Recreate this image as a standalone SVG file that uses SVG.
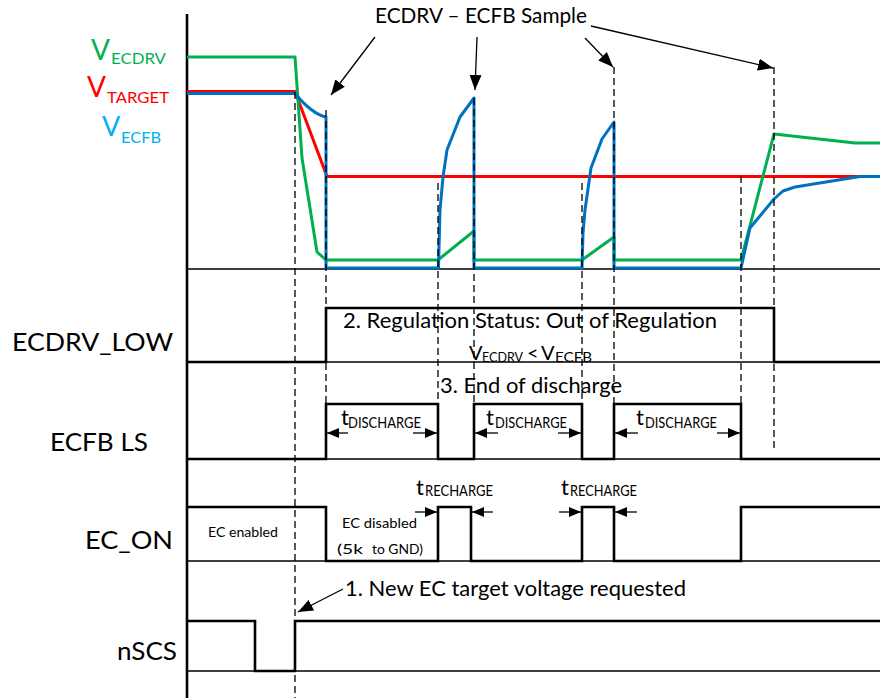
<svg xmlns="http://www.w3.org/2000/svg" width="880" height="698" viewBox="0 0 880 698">
<style>
text{font-family:Lato,"Liberation Sans",Arial,sans-serif;fill:#000}
.sig{fill:none;stroke:#000;stroke-width:2.6;stroke-linejoin:miter}
.sep{fill:none;stroke:#000;stroke-width:1.3}
.dash{fill:none;stroke:#000;stroke-width:1.3;stroke-dasharray:7 4}
.ann{fill:none;stroke:#000;stroke-width:1.3}
.wave{fill:none;stroke-width:3;stroke-linejoin:round}
.lbl{font-size:25.5px}
.big{font-size:22px}
.sub{font-size:14.5px}
.sm{font-size:14px}
</style>
<defs>
<marker id="ah" viewBox="0 0 12 10" refX="12" refY="5" markerWidth="12" markerHeight="10" markerUnits="userSpaceOnUse" orient="auto"><path d="M0,0 L12,5 L0,10 z" fill="#000"/></marker>
<marker id="ahb" viewBox="0 0 15 12" refX="15" refY="6" markerWidth="15" markerHeight="12" markerUnits="userSpaceOnUse" orient="auto"><path d="M0,0 L15,6 L0,12 z" fill="#000"/></marker>
</defs>
<rect width="880" height="698" fill="#fff"/>

<g id="axis">
<line x1="187" y1="14" x2="187" y2="698" stroke="#000" stroke-width="2.6"/>
<line class="sep" x1="187" y1="269" x2="880" y2="269"/>
<line class="sep" x1="187" y1="362" x2="880" y2="362"/>
<line class="sep" x1="187" y1="459" x2="880" y2="459"/>
<line class="sep" x1="187" y1="561" x2="880" y2="561"/>
<line class="sep" x1="187" y1="671" x2="880" y2="671"/>
</g>

<g id="analog">
<path class="wave" stroke="#FF0000" d="M187,91.5 H295 L327,176.5 H880"/>
<path class="wave" stroke="#00B050" d="M187,57 H295 L302,158 L317,252 L326,260 H438 L474,231 L474,260 H582 L614,237 L614,260 H741 L774,134 L855,143 H880"/>
<path class="wave" stroke="#0070C0" d="M187,93.5 H295 Q312,114 326,117 V268 H438.5 L440,210 L443,177 L447,150 L460,117 L474,98 V268 H582 L583,233 L585,210 L591,168 L602,139 L614,122 V268 H741 L750,228 L774,199 L783,191 L795,187 L860,176.5 H880"/>
<text x="91" y="60" font-size="28" style="fill:#00B050">V</text>
<text x="111" y="64" font-size="16" textLength="55" lengthAdjust="spacingAndGlyphs" style="fill:#00B050">ECDRV</text>
<text x="87" y="97" font-size="28" style="fill:#FF0000">V</text>
<text x="107" y="103" font-size="16" textLength="62" lengthAdjust="spacingAndGlyphs" style="fill:#FF0000">TARGET</text>
<text x="102" y="136" font-size="27" style="fill:#00B0F0">V</text>
<text x="121" y="143" font-size="16" textLength="40" lengthAdjust="spacingAndGlyphs" style="fill:#00B0F0">ECFB</text>
</g>

<g id="ecdrv-low">
<text class="lbl" x="12" y="351" textLength="161" lengthAdjust="spacingAndGlyphs">ECDRV_LOW</text>
<path class="sig" d="M187,362 H326 V308 H774 V362 H880"/>
<text class="big" x="343" y="328" textLength="374" lengthAdjust="spacingAndGlyphs">2. Regulation Status: Out of Regulation</text>
<text x="469" y="360" font-size="20">V</text>
<text x="482" y="362" font-size="13" textLength="41" lengthAdjust="spacingAndGlyphs">ECDRV</text>
<text x="527" y="360" font-size="20">&lt;</text>
<text x="541" y="360" font-size="20">V</text>
<text x="555" y="362" font-size="13" textLength="37" lengthAdjust="spacingAndGlyphs">ECFB</text>
</g>

<g id="ecfb-ls">
<text class="lbl" x="50" y="451" textLength="98" lengthAdjust="spacingAndGlyphs">ECFB LS</text>
<path class="sig" d="M187,459 H326 V404 H438 V459 H474 V404 H582 V459 H614 V404 H741 V459 H880"/>
<text class="big" x="440" y="393" textLength="182" lengthAdjust="spacingAndGlyphs">3. End of discharge</text>
<text class="big" x="341" y="425">t</text>
<text class="sub" x="348" y="428" textLength="73" lengthAdjust="spacingAndGlyphs">DISCHARGE</text>
<text class="big" x="486" y="425">t</text>
<text class="sub" x="495" y="428" textLength="72" lengthAdjust="spacingAndGlyphs">DISCHARGE</text>
<text class="big" x="636" y="425">t</text>
<text class="sub" x="645" y="428" textLength="72" lengthAdjust="spacingAndGlyphs">DISCHARGE</text>
</g>

<g id="ec-on">
<text class="lbl" x="85" y="549" textLength="88" lengthAdjust="spacingAndGlyphs">EC_ON</text>
<path class="sig" d="M187,507 H326 V561 H438 V507 H471 V561 H582 V507 H614 V561 H741 V507 H880"/>
<text class="sm" x="208" y="537" textLength="70" lengthAdjust="spacingAndGlyphs">EC enabled</text>
<text class="sm" x="342" y="528" textLength="75" lengthAdjust="spacingAndGlyphs">EC disabled</text>
<text class="sm" x="337" y="554" textLength="26" lengthAdjust="spacingAndGlyphs">(5k</text>
<text class="sm" x="372" y="554" textLength="51" lengthAdjust="spacingAndGlyphs">to GND)</text>
<text class="big" x="416" y="495">t</text>
<text class="sub" x="425" y="496" textLength="68" lengthAdjust="spacingAndGlyphs">RECHARGE</text>
<text class="big" x="561" y="495">t</text>
<text class="sub" x="570" y="496" textLength="67" lengthAdjust="spacingAndGlyphs">RECHARGE</text>
</g>

<g id="nscs">
<text class="lbl" x="117" y="660" textLength="60" lengthAdjust="spacingAndGlyphs">nSCS</text>
<path class="sig" d="M187,621 H255 V671 H295 V621 H880"/>
<text x="345" y="596" font-size="21.5" textLength="341" lengthAdjust="spacingAndGlyphs">1. New EC target voltage requested</text>
</g>

<g id="title">
<text class="big" x="375" y="23" textLength="212" lengthAdjust="spacingAndGlyphs">ECDRV – ECFB Sample</text>
</g>

<g id="connectors">
<line class="dash" x1="295" y1="92" x2="295" y2="698"/>
<line class="dash" x1="326" y1="110" x2="326" y2="404"/>
<line class="dash" x1="438" y1="183" x2="438" y2="404"/>
<line class="dash" x1="474" y1="98" x2="474" y2="404"/>
<line class="dash" x1="582" y1="183" x2="582" y2="404"/>
<line class="dash" x1="614" y1="67" x2="614" y2="404"/>
<line class="dash" x1="741" y1="176" x2="741" y2="404"/>
<line class="dash" x1="774" y1="67" x2="774" y2="448"/>
<line class="ann" x1="375" y1="37" x2="331" y2="95" marker-end="url(#ahb)"/>
<line class="ann" x1="477" y1="37" x2="475" y2="90" marker-end="url(#ahb)"/>
<line class="ann" x1="585" y1="38" x2="613" y2="67" marker-end="url(#ahb)"/>
<line class="ann" x1="591" y1="26" x2="773" y2="68" marker-end="url(#ahb)"/>
<line class="ann" x1="343" y1="589" x2="298" y2="612" marker-end="url(#ahb)"/>
<line class="ann" x1="348" y1="433" x2="327" y2="433" marker-end="url(#ah)"/>
<line class="ann" x1="413" y1="433" x2="437" y2="433" marker-end="url(#ah)"/>
<line class="ann" x1="498" y1="433" x2="475" y2="433" marker-end="url(#ah)"/>
<line class="ann" x1="558" y1="433" x2="581" y2="433" marker-end="url(#ah)"/>
<line class="ann" x1="638" y1="433" x2="615" y2="433" marker-end="url(#ah)"/>
<line class="ann" x1="717" y1="433" x2="740" y2="433" marker-end="url(#ah)"/>
<line class="ann" x1="415" y1="512" x2="437" y2="512" marker-end="url(#ah)"/>
<line class="ann" x1="493" y1="512" x2="472" y2="512" marker-end="url(#ah)"/>
<line class="ann" x1="559" y1="512" x2="581" y2="512" marker-end="url(#ah)"/>
<line class="ann" x1="637" y1="512" x2="615" y2="512" marker-end="url(#ah)"/>
</g>
</svg>
